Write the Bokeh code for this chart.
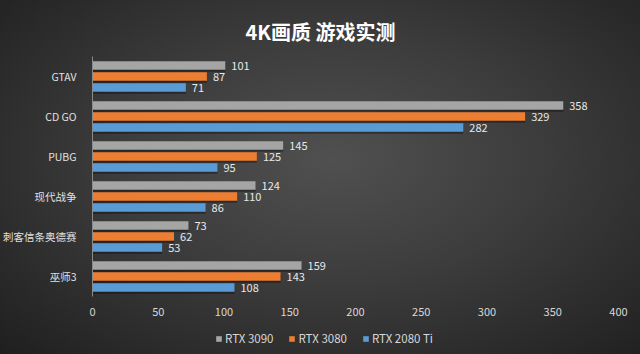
from bokeh.plotting import figure
from bokeh.layouts import column
from bokeh.models import ColumnDataSource, FactorRange, Range1d, Legend, LegendItem, FixedTicker, Title
from bokeh.transform import dodge
from bokeh.core.properties import value
from bokeh.embed import file_html
from bokeh.resources import INLINE

games = ["GTAV", "CD GO", "PUBG", "现代战争", "刺客信条奥德赛", "巫师3"]
rtx3090 = [101, 358, 145, 124, 73, 159]
rtx3080 = [87, 329, 125, 110, 62, 143]
rtx2080ti = [71, 282, 95, 86, 53, 108]
series_names = ["RTX 3090", "RTX 3080", "RTX 2080 Ti"]
colors = ["#A5A5A5", "#ED7D31", "#5B9BD5"]
x_ticks = [0, 50, 100, 150, 200, 250, 300, 350, 400]

FONT = "Noto Sans CJK SC"

src = ColumnDataSource(dict(game=games, s0=rtx3090, s1=rtx3080, s2=rtx2080ti,
                            l0=[str(v) for v in rtx3090],
                            l1=[str(v) for v in rtx3080],
                            l2=[str(v) for v in rtx2080ti]))

p = figure(width=640, height=324, output_backend="svg", toolbar_location=None,
           y_range=FactorRange(*games[::-1]), x_range=Range1d(0, 400),
           min_border_left=92, min_border_right=22, min_border_top=56, min_border_bottom=28)
p.title = None
p.background_fill_color = None
p.border_fill_color = None
p.outline_line_color = None

offsets = [0.275, 0.0, -0.275]
bh = 0.21
for i, (name, col) in enumerate(zip(series_names, colors)):
    p.hbar(y=dodge("game", offsets[i] - 0.05, range=p.y_range), right=f"s{i}", left=0,
           height=bh, source=src, fill_color="#000000", fill_alpha=0.35, line_color=None)
    p.hbar(y=dodge("game", offsets[i], range=p.y_range), right=f"s{i}", left=0,
           height=bh, source=src, fill_color=col, line_color=None)
    p.text(x=f"s{i}", y=dodge("game", offsets[i], range=p.y_range), text=f"l{i}",
           source=src, x_offset=6, text_baseline="middle", text_align="left",
           text_color="#e8e8e8", text_font=value(FONT), text_font_size="11px")

p.xgrid.visible = False
p.ygrid.visible = False

xa = p.xaxis[0]
xa.ticker = FixedTicker(ticks=x_ticks)
xa.axis_line_color = None
xa.major_tick_line_color = None
xa.minor_tick_line_color = None
xa.major_label_standoff = 5
xa.major_label_text_color = "#d8d8d8"
xa.major_label_text_font = FONT
xa.major_label_text_font_size = "11px"

ya = p.yaxis[0]
ya.axis_line_color = "#8a8a8a"
ya.major_tick_line_color = None
ya.minor_tick_line_color = None
ya.major_label_standoff = 10
ya.major_label_text_color = "#e0e0e0"
ya.major_label_text_font = FONT
ya.major_label_text_font_size = "10.5px"

p.add_layout(Title(text="4K画质  游戏实测", align="left", text_color="#ffffff", text_font=FONT,
                   text_font_size="20px", text_font_style="bold", offset=153, standoff=22), "above")

# legend strip
lg = figure(width=640, height=30, output_backend="svg", toolbar_location=None,
            x_range=Range1d(0, 1), y_range=Range1d(0, 1),
            x_axis_location=None, y_axis_location=None,
            min_border_left=0, min_border_right=0, min_border_top=0, min_border_bottom=0)
lg.background_fill_color = None
lg.border_fill_color = None
lg.outline_line_color = None
lg.xgrid.visible = False
lg.ygrid.visible = False
offscreen = ColumnDataSource(dict(y=[-10], r=[-10]))
dummies = [lg.hbar(y="y", right="r", left=-11, height=0.1, source=offscreen,
                   fill_color=c, line_color=None) for c in colors]
legend = Legend(items=[LegendItem(label=n, renderers=[r]) for n, r in zip(series_names, dummies)],
                orientation="horizontal", location=(123, 8),
                background_fill_alpha=0, border_line_color=None,
                label_text_color="#d8d8d8", label_text_font=FONT, label_text_font_size="11.5px",
                glyph_width=7, glyph_height=7, label_standoff=3, spacing=15, padding=2, margin=0)
lg.add_layout(legend, "center")

layout = column(p, lg, spacing=0)
layout.styles = {"background": "radial-gradient(ellipse at 52% 45%, #505050 0%, #3c3c3c 45%, #1f1f1f 100%)"}

open("out.html", "w").write(file_html(layout, INLINE))
